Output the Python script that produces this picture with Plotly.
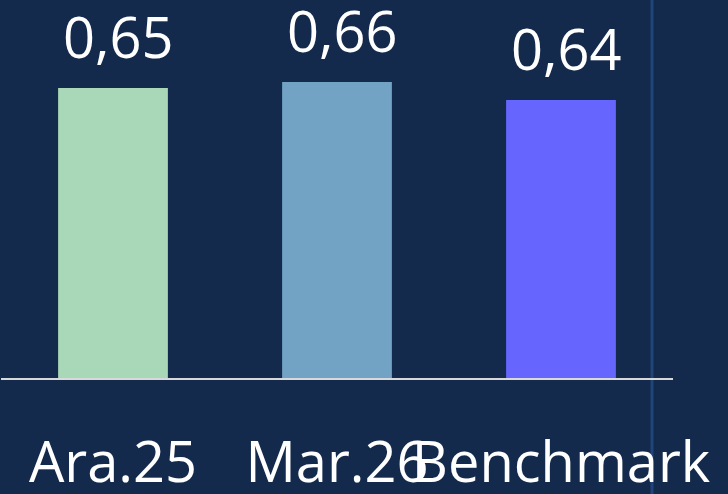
import plotly.graph_objects as go

categories = ["Ara.25", "Mar.26", "Benchmark"]
values = [0.650, 0.656, 0.638]
labels = ["0,65", "0,66", "0,64"]
colors = ["#A9D8B8", "#72A3C4", "#6666FF"]

fig = go.Figure()
fig.add_trace(go.Bar(
    x=categories, y=values, marker=dict(color=colors, line=dict(width=0)),
    width=0.49, hoverinfo="skip",
))

for c, v, t in zip(categories, values, labels):
    fig.add_annotation(x=c, y=v, text=t, showarrow=False, yanchor="bottom",
                       xshift=5, yshift=12,
                       font=dict(family="Open Sans", size=56, color="#FFFFFF"))

fig.add_shape(type="line", xref="paper", yref="paper",
              x0=0.9688, x1=0.9688, y0=-0.31, y1=1.0,
              line=dict(color="#1f457a", width=3), layer="below")

fig.update_layout(
    width=728, height=494,
    margin=dict(l=1, r=55, t=0, b=116, autoexpand=False),
    paper_bgcolor="#142a4c", plot_bgcolor="rgba(0,0,0,0)",
    showlegend=False,
    xaxis=dict(showline=True, linecolor="#d9d9d9", linewidth=2, tickangle=0,
               automargin=False,
               ticks="outside", ticklen=35, tickcolor="rgba(0,0,0,0)",
               tickfont=dict(family="Open Sans", size=56, color="#FFFFFF"),
               showgrid=False, zeroline=False),
    yaxis=dict(range=[0.36, 0.738], visible=False, showgrid=False, zeroline=False,
               automargin=False),
)

fig.write_html("out.html", config={"displayModeBar": False},
               post_script="document.body.style.margin='0';document.body.style.background='#142a4c';")
